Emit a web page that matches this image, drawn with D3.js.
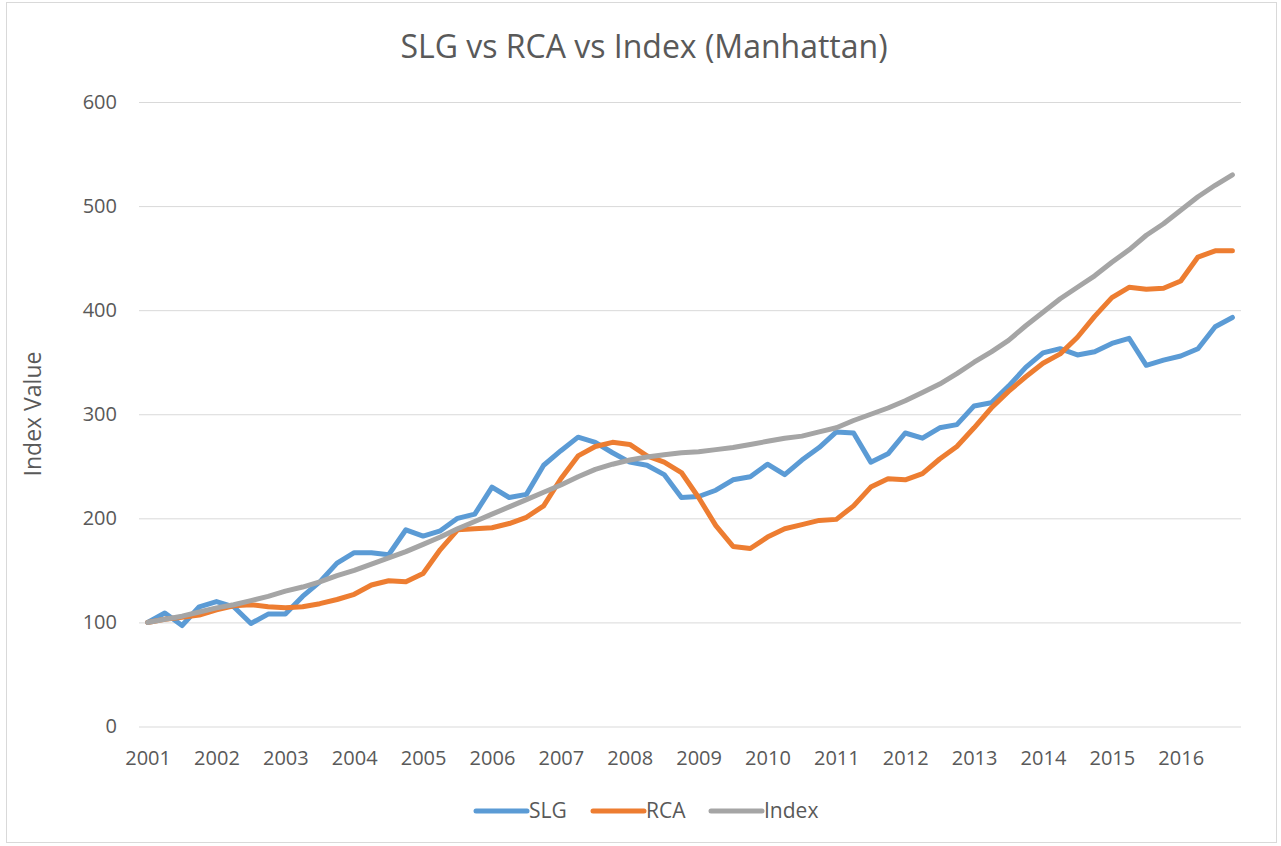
<!DOCTYPE html>
<html>
<head>
<meta charset="utf-8">
<script src="https://cdn.jsdelivr.net/npm/d3@7"></script>
<style>
  body { margin: 0; background: #fff; }
  text { font-family: "Open Sans", sans-serif; fill: #595959; }
</style>
</head>
<body>
<div id="chart"></div>
<script>
// quarterly data, 2001 Q1 .. 2016 Q4
var years = [2001, 2002, 2003, 2004, 2005, 2006, 2007, 2008,
             2009, 2010, 2011, 2012, 2013, 2014, 2015, 2016];
var quarters = ["Q1", "Q2", "Q3", "Q4"];

var slg = [100, 109, 97, 115, 120, 115, 99, 108,
           108, 125, 139, 157, 167, 167, 165, 189,
           183, 188, 200, 204, 230, 220, 223, 251,
           265, 278, 273, 263, 254, 251, 242, 220,
           221, 227, 237, 240, 252, 242, 256, 268,
           283, 282, 254, 262, 282, 277, 287, 290,
           308, 311, 327, 345, 359, 363, 357, 360,
           368, 373, 347, 352, 356, 363, 384, 393];

var rca = [100, 103, 105, 107, 112, 116, 117, 115,
           114, 115, 118, 122, 127, 136, 140, 139,
           147, 170, 189, 190, 191, 195, 201, 212,
           238, 260, 269, 273, 271, 260, 254, 244,
           220, 193, 173, 171, 182, 190, 194, 198,
           199, 212, 230, 238, 237, 243, 257, 269,
           287, 306, 322, 336, 349, 358, 374, 394,
           412, 422, 420, 421, 428, 451, 457, 457];

var index = [100, 103, 106, 110, 114, 117, 121, 125,
             130, 134, 139, 145, 150, 156, 162, 168,
             175, 182, 190, 197, 204, 211, 218, 225,
             232, 240, 247, 252, 256, 259, 261, 263,
             264, 266, 268, 271, 274, 277, 279, 283,
             287, 294, 300, 306, 313, 321, 329, 339,
             350, 360, 371, 385, 398, 411, 422, 433,
             446, 458, 472, 483, 496, 509, 520, 530];

var yTicks = [0, 100, 200, 300, 400, 500, 600];

var seriesNames = ["SLG", "RCA", "Index"];
var seriesColors = ["#5B9BD5", "#ED7D31", "#A5A5A5"];

// build categories and series table
var categories = [];
years.forEach(function(y) {
  quarters.forEach(function(q) { categories.push(y + " " + q); });
});
var series = [slg, rca, index].map(function(vals, k) {
  return {
    name: seriesNames[k],
    color: seriesColors[k],
    values: vals.map(function(v, i) { return {cat: categories[i], value: v}; })
  };
});

var W = 1281, H = 846;
var margin = {top: 102, left: 139},
    width = 1241 - margin.left,
    height = 726.5 - margin.top;

var root = d3.select("#chart")
  .append("svg")
    .attr("width", W)
    .attr("height", H);

// chart border
root.append("rect")
  .attr("x", 6.5).attr("y", 2.5)
  .attr("width", 1270).attr("height", 840)
  .attr("fill", "none")
  .attr("stroke", "#D9D9D9");

// title
root.append("text")
  .attr("x", 644)
  .attr("y", 58)
  .attr("text-anchor", "middle")
  .style("font-size", "32px")
  .text("SLG vs RCA vs Index (Manhattan)");

var svg = root.append("g")
  .attr("transform", "translate(" + margin.left + "," + margin.top + ")");

var x = d3.scalePoint()
  .domain(categories)
  .range([0, width])
  .padding(0.5);

var y = d3.scaleLinear()
  .domain([0, 600])
  .range([height, 0]);

// Y axis + gridlines
var yAxis = svg.append("g")
  .call(d3.axisLeft(y).tickValues(yTicks).tickSize(-width).tickPadding(22));
yAxis.select(".domain").remove();
yAxis.selectAll(".tick line")
  .attr("stroke", "#D9D9D9");
yAxis.selectAll(".tick text")
  .style("font-size", "20px")
  .style("font-family", "'Open Sans', sans-serif")
  .attr("fill", "#595959");

// X axis, one label per year
var xAxis = svg.append("g")
  .attr("transform", "translate(0," + height + ")")
  .call(d3.axisBottom(x)
    .tickValues(categories.filter(function(d, i) { return i % 4 == 0; }))
    .tickFormat(function(d) { return d.slice(0, 4); })
    .tickSize(0)
    .tickPadding(24));
xAxis.select(".domain").remove();
xAxis.selectAll(".tick text")
  .style("font-size", "20px")
  .style("font-family", "'Open Sans', sans-serif")
  .attr("fill", "#595959");

// Y axis title
root.append("text")
  .attr("transform", "translate(41,414) rotate(-90)")
  .attr("text-anchor", "middle")
  .style("font-size", "23px")
  .text("Index Value");

// lines
var line = d3.line()
  .x(function(d) { return x(d.cat); })
  .y(function(d) { return y(d.value); });

svg.selectAll(".series")
  .data(series)
  .enter()
  .append("path")
    .attr("class", "series")
    .attr("d", function(d) { return line(d.values); })
    .attr("fill", "none")
    .attr("stroke", function(d) { return d.color; })
    .attr("stroke-width", 5)
    .attr("stroke-linejoin", "round")
    .attr("stroke-linecap", "round");

// legend
var legendX = [476, 593, 711];
var legend = root.selectAll(".legend")
  .data(series)
  .enter()
  .append("g")
    .attr("class", "legend")
    .attr("transform", function(d, i) { return "translate(" + legendX[i] + ",811)"; });
legend.append("line")
  .attr("x1", 0).attr("x2", 51)
  .attr("stroke", function(d) { return d.color; })
  .attr("stroke-width", 5)
  .attr("stroke-linecap", "round");
legend.append("text")
  .attr("x", 53)
  .attr("dy", "0.35em")
  .style("font-size", "21px")
  .text(function(d) { return d.name; });
</script>
</body>
</html>
